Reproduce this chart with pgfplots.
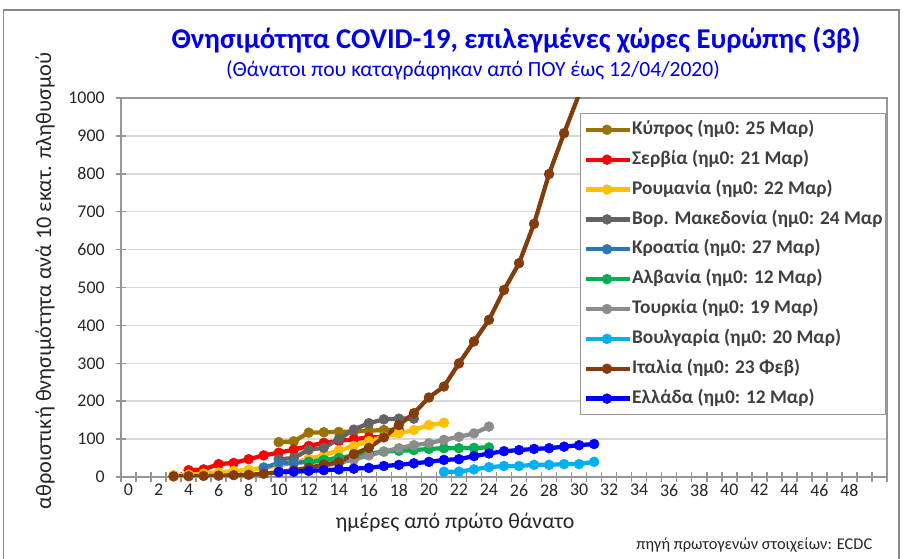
\documentclass[border=0pt]{standalone}
\usepackage{pgfplots}
\pgfplotsset{compat=1.18}
\usepackage{fontspec}
\setmainfont{Carlito}
\definecolor{cCyp}{RGB}{153,115,0}
\definecolor{cSer}{RGB}{255,0,0}
\definecolor{cRom}{RGB}{255,192,0}
\definecolor{cMac}{RGB}{99,99,99}
\definecolor{cCro}{RGB}{46,117,182}
\definecolor{cAlb}{RGB}{0,176,80}
\definecolor{cTur}{RGB}{140,140,140}
\definecolor{cBul}{RGB}{0,176,240}
\definecolor{cIta}{RGB}{132,60,12}
\definecolor{cGre}{RGB}{0,0,255}
\definecolor{ttl}{RGB}{0,0,230}
\definecolor{txt}{RGB}{38,38,38}
\definecolor{leg}{RGB}{64,64,64}
\definecolor{grd}{RGB}{217,217,217}
\definecolor{axc}{RGB}{150,150,150}
\begin{document}
\begin{tikzpicture}[x=0.75pt,y=0.75pt]
\useasboundingbox (0,0) rectangle (903,559);
\draw[axc!90!black, line width=1.2pt] (3.5,-5) -- (3.5,549) -- (899,549) -- (899,-5);
\begin{axis}[
  at={(90.75pt,61.5pt)}, anchor=south west,
  scale only axis, width=574.5pt, height=284.25pt,
  xmin=-0.5, xmax=50.5, ymin=0, ymax=1000,
  axis line style={axc, line width=1.1pt},
  xtick pos=bottom, ytick pos=left,
  xtick={-0.5,0.5,...,50.5}, xticklabels={},
  extra x ticks={0,2,...,48},
  extra x tick labels={0,2,4,6,8,10,12,14,16,18,20,22,24,26,28,30,32,34,36,38,40,42,44,46,48},
  extra x tick style={major tick length=0pt, grid=none},
  ytick={0,100,...,1000},
  ymajorgrids, grid style={grd, line width=1.1pt},
  tick align=center, major tick length=7.5pt,
  tick style={axc, line width=1.1pt},
  /pgf/number format/assume math mode=true,
  /pgf/number format/1000 sep={},
  ticklabel style={font=\fontsize{13.4pt}{15pt}\selectfont, text=txt},
  xticklabel style={yshift=-2pt},
  yticklabel style={xshift=-5pt},
  every axis plot/.append style={line width=3.2pt, mark=*, mark size=3.7pt, mark options={solid, line width=0.4pt}},
  legend style={at={(0.599,0.960)}, anchor=north west, draw=axc, line width=1pt, fill=white,
    font=\fontsize{14.5pt}{16pt}\selectfont\bfseries, text=leg,
    nodes={inner sep=0pt, text height=10.5pt, text depth=3.5pt},
    row sep=8.4pt, inner xsep=2.5pt, inner ysep=5pt, cells={anchor=west}},
  legend image code/.code={\draw[mark repeat=2, mark phase=2] plot coordinates {(0pt,0pt) (15.75pt,0pt) (31.5pt,0pt)}; \path (31.5pt,0pt) -- (33pt,0pt);},
]
\addplot[color=cCyp] coordinates {(10,92) (11,94) (12,117) (13,118) (14,119) (15,120) (16,122) (17,124) (18,125)};
\addlegendentry{Κύπρος (ημ0: 25 Μαρ)}
\addplot[color=cSer] coordinates {(4,18) (5,20) (6,34) (7,37) (8,47) (9,57) (10,64) (11,72) (12,82) (13,90) (14,95) (15,100) (16,104) (17,106)};
\addlegendentry{Σερβία (ημ0: 21 Μαρ)}
\addplot[color=cRom] coordinates {(3,5) (4,6) (5,9) (6,12) (7,16) (8,19) (9,24) (10,30) (11,38) (12,48) (13,58) (14,70) (15,82) (16,95) (17,106) (18,115) (19,124) (20,137) (21,143)};
\addlegendentry{Ρουμανία (ημ0: 22 Μαρ)}
\addplot[color=cMac] coordinates {(10,47) (11,50) (12,72) (13,77) (14,100) (15,125) (16,142) (17,152) (18,154) (19,154)};
\addlegendentry{Βορ. Μακεδονία (ημ0: 24 Μαρ}
\addplot[color=cCro] coordinates {(9,25) (10,36) (11,37) (12,40) (13,45) (14,50) (15,55) (16,62)};
\addlegendentry{Κροατία (ημ0: 27 Μαρ)}
\addplot[color=cAlb] coordinates {(12,38) (13,45) (14,50) (15,56) (16,62) (17,67) (18,69) (19,71) (20,74) (21,76) (22,76) (23,77) (24,78)};
\addlegendentry{Αλβανία (ημ0: 12 Μαρ)}
\addplot[color=cTur] coordinates {(13,30) (14,37) (15,46) (16,57) (17,67) (18,76) (19,84) (20,89) (21,98) (22,106) (23,115) (24,133)};
\addlegendentry{Τουρκία (ημ0: 19 Μαρ)}
\addplot[color=cBul] coordinates {(21,14) (22,14) (23,20) (24,26) (25,29) (26,29) (27,32) (28,32) (29,34) (30,34) (31,40)};
\addlegendentry{Βουλγαρία (ημ0: 20 Μαρ)}
\addplot[color=cIta] coordinates {(3,1.7) (4,2.0) (5,2.8) (6,3.5) (7,4.8) (8,5.6) (9,8.6) (10,13.1) (11,17.7) (12,24.5) (13,32.6) (14,38.6) (15,60.6) (16,76.7) (17,104.5) (18,137.0) (19,168.3) (20,209.7) (21,238.7) (22,299.7) (23,357.5) (24,414.7) (25,493.4) (26,564.1) (27,668.0) (28,799.4) (29,907.2) (30,1010)};
\addlegendentry{Ιταλία (ημ0: 23 Φεβ)}
\addplot[color=cGre] coordinates {(10,13) (11,14) (12,16) (13,18) (14,20) (15,22) (16,24) (17,29) (18,32) (19,36) (20,40) (21,45) (22,47) (23,55) (24,62) (25,68) (26,71) (27,74) (28,76) (29,80) (30,84) (31,87)};
\addlegendentry{Ελλάδα (ημ0: 12 Μαρ)}
\end{axis}
\node[text=ttl, font=\fontsize{21.5pt}{24pt}\selectfont\bfseries] at (516,519) {Θνησιμότητα COVID-19, επιλεγμένες χώρες Ευρώπης (3β)};
\node[text=ttl, font=\fontsize{16.2pt}{19pt}\selectfont] at (473,489) {(Θάνατοι που καταγράφηκαν από ΠΟΥ έως 12/04/2020)};
\node[text=txt, font=\fontsize{16.7pt}{19pt}\selectfont, rotate=90] at (45,278) {αθροιστική θνησιμότητα ανά 10 εκατ. πληθυσμού};
\node[text=txt, font=\fontsize{16.4pt}{19pt}\selectfont] at (455,36) {ημέρες από πρώτο θάνατο};
\node[text=txt, font=\fontsize{12.3pt}{14pt}\selectfont, anchor=east] at (877,14) {πηγή πρωτογενών στοιχείων: ECDC};
\end{tikzpicture}
\end{document}
